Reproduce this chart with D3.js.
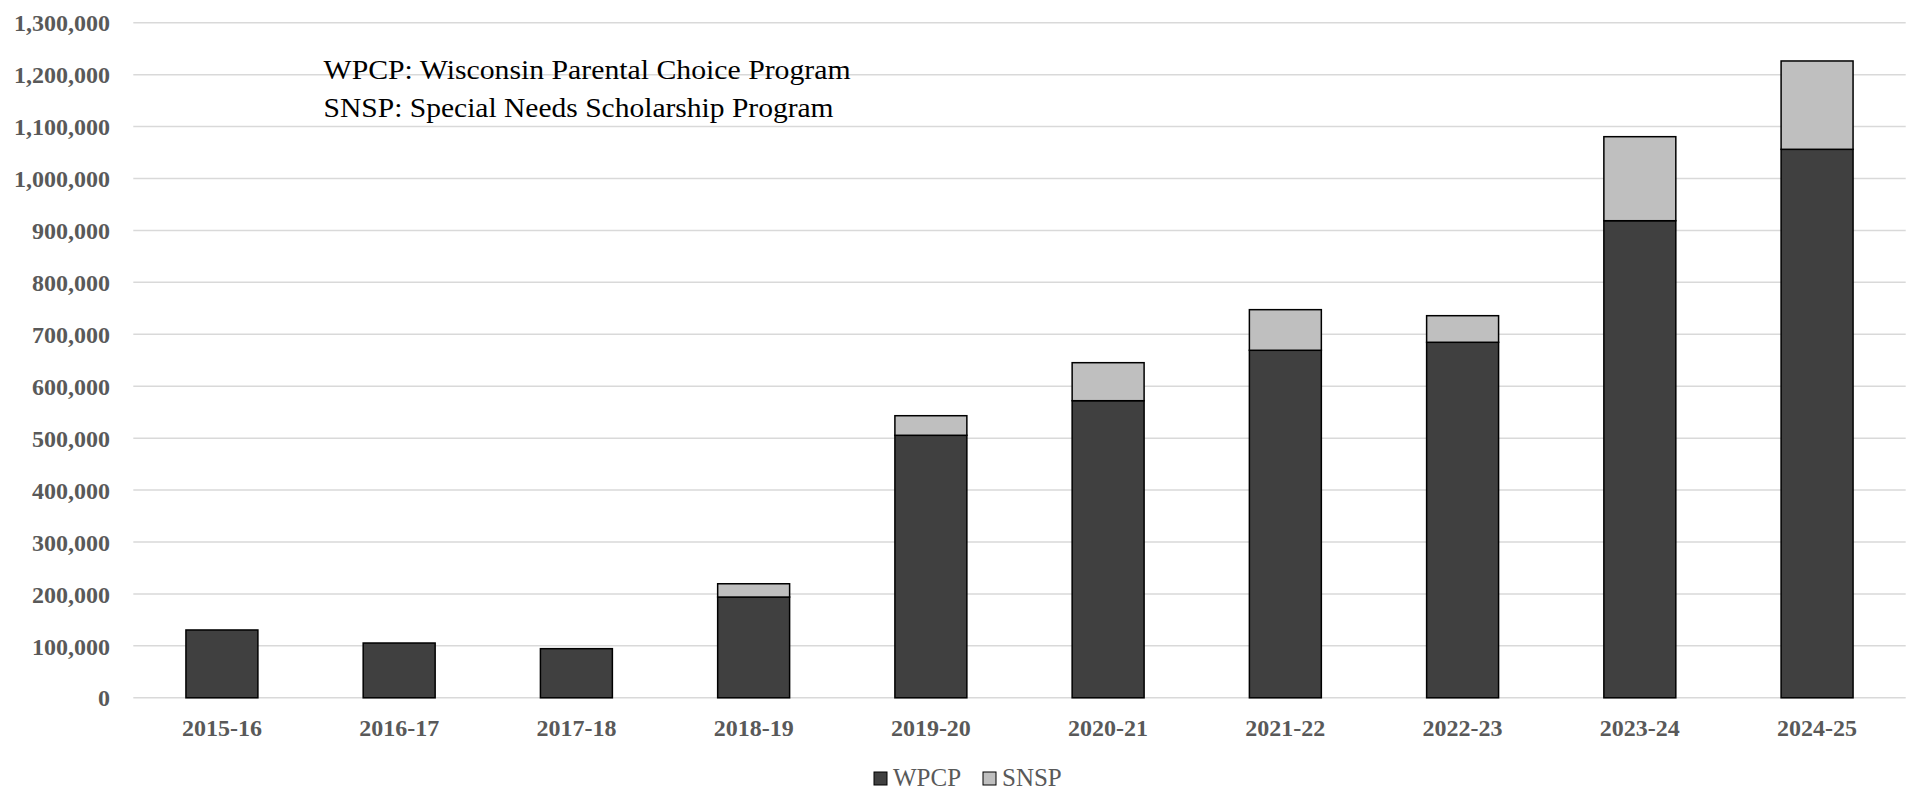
<!DOCTYPE html>
<html>
<head>
<meta charset="utf-8">
<script src="https://cdn.jsdelivr.net/npm/d3@7"></script>
<style>
  html, body { margin: 0; padding: 0; background: #fff; }
  svg { display: block; }
</style>
</head>
<body>
<svg id="chart" width="1915" height="791"></svg>
<script>
// School years and enrollment counts per program
const years = ["2015-16", "2016-17", "2017-18", "2018-19", "2019-20",
               "2020-21", "2021-22", "2022-23", "2023-24", "2024-25"];
const wpcp = [130600, 105500, 94600, 194000, 505500, 572100, 669200, 684600, 918700, 1056200];
const snsp = [0, 0, 0, 25600, 37700, 73200, 78200, 51200, 161800, 170100];
const yTicks = [0, 100000, 200000, 300000, 400000, 500000, 600000,
                700000, 800000, 900000, 1000000, 1100000, 1200000, 1300000];
const seriesNames = ["WPCP", "SNSP"];
const seriesColors = ["#404040", "#bfbfbf"];
const notes = ["WPCP: Wisconsin Parental Choice Program",
               "SNSP: Special Needs Scholarship Program"];

const serif = "'Liberation Serif', 'Times New Roman', serif";
const svg = d3.select("#chart");

const x = d3.scaleBand()
  .domain(years)
  .range([133.3, 1905.7])
  .paddingInner(0.594)
  .paddingOuter(0.297);

const y = d3.scaleLinear()
  .domain([0, 1300000])
  .range([697.8, 22.7]);

// Horizontal gridlines
svg.append("g")
  .selectAll("line")
  .data(yTicks)
  .join("line")
  .attr("x1", 133.3)
  .attr("x2", 1905.7)
  .attr("y1", d => y(d))
  .attr("y2", d => y(d))
  .attr("stroke", "#d9d9d9")
  .attr("stroke-width", 1.5);

// Y axis labels
const yAxis = d3.axisLeft(y)
  .tickValues(yTicks)
  .tickFormat(d3.format(","))
  .tickSize(0)
  .tickPadding(0);
const yg = svg.append("g")
  .attr("transform", "translate(110,0)")
  .call(yAxis);
yg.select(".domain").remove();
yg.selectAll("text")
  .attr("font-family", serif)
  .attr("font-weight", "bold")
  .attr("font-size", 24)
  .attr("fill", "#595959")
  .attr("dy", "0.34em");

// X axis labels
const xAxis = d3.axisBottom(x).tickSize(0).tickPadding(0);
const xg = svg.append("g")
  .attr("transform", "translate(0,736)")
  .call(xAxis);
xg.select(".domain").remove();
xg.selectAll("text")
  .attr("font-family", serif)
  .attr("font-weight", "bold")
  .attr("font-size", 24)
  .attr("fill", "#595959")
  .attr("dy", 0)
  .attr("y", 0);

// Stacked bars
const rows = years.map((yr, i) => ({ year: yr, WPCP: wpcp[i], SNSP: snsp[i] }));
const stacked = d3.stack().keys(seriesNames)(rows);

svg.append("g")
  .selectAll("g")
  .data(stacked)
  .join("g")
  .attr("fill", (d, i) => seriesColors[i])
  .selectAll("rect")
  .data(d => d.filter(p => p[1] - p[0] > 0))
  .join("rect")
  .attr("x", d => x(d.data.year))
  .attr("width", x.bandwidth())
  .attr("y", d => y(d[1]))
  .attr("height", d => y(d[0]) - y(d[1]))
  .attr("stroke", "#000")
  .attr("stroke-width", 1.5);

// Abbreviation notes
const noteWidths = [527, 510];
svg.append("g")
  .selectAll("text")
  .data(notes)
  .join("text")
  .attr("x", 323.6)
  .attr("y", (d, i) => 79 + i * 38)
  .attr("font-family", serif)
  .attr("font-size", 28)
  .attr("fill", "#000")
  .attr("textLength", (d, i) => noteWidths[i])
  .attr("lengthAdjust", "spacingAndGlyphs")
  .text(d => d);

// Legend
const legend = svg.append("g");
const legendX = [874, 983];
seriesNames.forEach((name, i) => {
  legend.append("rect")
    .attr("x", legendX[i])
    .attr("y", 772)
    .attr("width", 13)
    .attr("height", 13)
    .attr("fill", seriesColors[i])
    .attr("stroke", "#000")
    .attr("stroke-width", 1);
  legend.append("text")
    .attr("x", legendX[i] + 19)
    .attr("y", 786)
    .attr("font-family", serif)
    .attr("font-size", 25)
    .attr("fill", "#595959")
    .text(name);
});
</script>
</body>
</html>
